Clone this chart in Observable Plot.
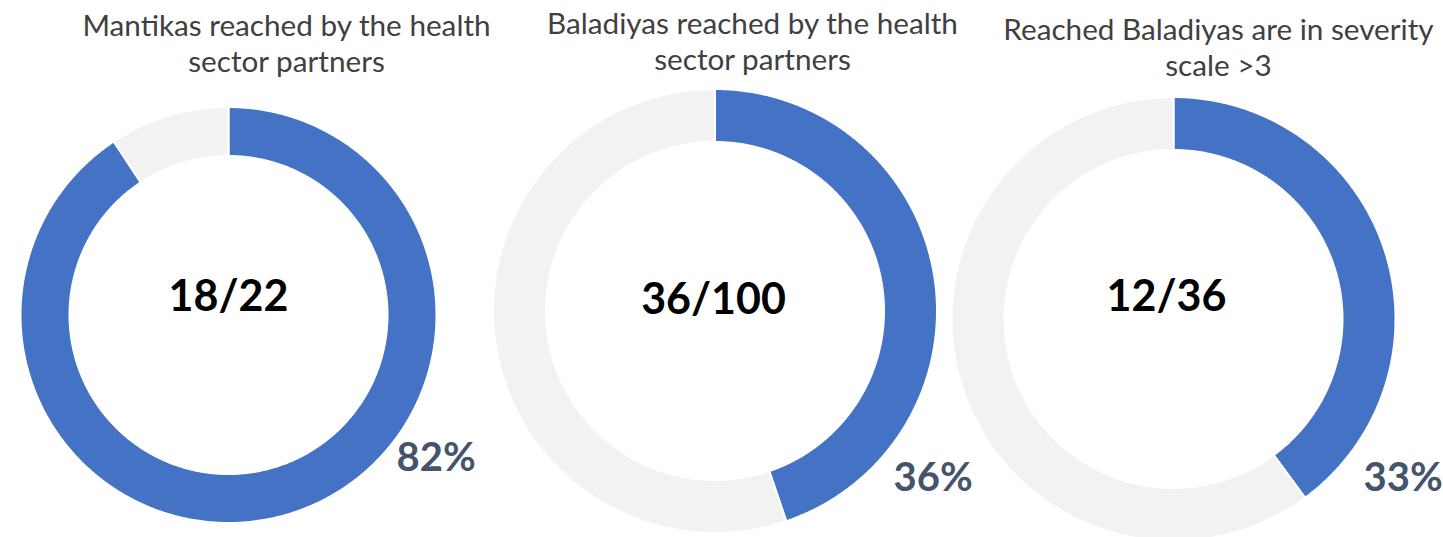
<!DOCTYPE html>
<html>
<head>
<meta charset="utf-8">
<script src="https://cdn.jsdelivr.net/npm/d3@7"></script>
<script src="https://cdn.jsdelivr.net/npm/@observablehq/plot@0.6"></script>
<style>
  html, body { margin: 0; padding: 0; background: #ffffff; }
  #chart svg { display: block; }
</style>
</head>
<body>
<div id="chart"></div>
<script>
// ---- data ----
const titles = [
  "Mantikas reached by the health\nsector partners",
  "Baladiyas reached by the health\nsector partners",
  "Reached Baladiyas are in severity\nscale >3"
];
const centerLabels = ["18/22", "36/100", "12/36"];
const percentLabels = ["82%", "36%", "33%"];
// share of the ring drawn in blue / grey, as it appears in the picture
const reachedShare = [0.907, 0.448, 0.399];
const remainingShare = [0.093, 0.552, 0.601];
const segments = ["reached", "remaining"];

// ---- layout (pixels) ----
const W = 1443, H = 537;
const cx = [228.5, 715, 1173.5];
const cy = [315, 311, 319];
const rOuter = [208, 222, 222];
const rInner = [159, 169, 169];
const titleX = [286, 752, 1218];
const titleBaseline = [71, 69, 75];
const centerBaseline = [310, 313, 310];
const centerX = [228, 713, 1166];
const pctX = [396, 893, 1363];
const pctBaseline = [470, 490, 490];

// ---- build ring-segment outlines from the shares ----
const ringPoints = [];
titles.forEach((t, i) => {
  const shares = [reachedShare[i], remainingShare[i]];
  const total = shares[0] + shares[1];
  let start = 0;
  shares.forEach((s, k) => {
    const a0 = start / total * 2 * Math.PI;
    const a1 = (start + s) / total * 2 * Math.PI;
    const n = Math.max(8, Math.ceil((a1 - a0) / (Math.PI / 360)));
    for (let j = 0; j <= n; j++) {
      const a = a0 + (a1 - a0) * j / n;
      ringPoints.push({
        key: i + "-" + segments[k],
        segment: segments[k],
        x1: cx[i] + rOuter[i] * Math.sin(a),
        y1: cy[i] - rOuter[i] * Math.cos(a),
        x2: cx[i] + rInner[i] * Math.sin(a),
        y2: cy[i] - rInner[i] * Math.cos(a)
      });
    }
    start += s;
  });
});

const idx = titles.map((_, i) => i);

const chart = Plot.plot({
  width: W,
  height: H,
  margin: 0,
  style: { background: "#ffffff", fontFamily: "Lato, sans-serif" },
  x: { domain: [0, W], range: [0, W], axis: null },
  y: { domain: [0, H], range: [0, H], axis: null },
  color: { domain: segments, range: ["#4472C4", "#F2F2F2"] },
  marks: [
    Plot.area(ringPoints, {
      x1: "x1", y1: "y1", x2: "x2", y2: "y2",
      z: "key", fill: "segment",
      stroke: "#ffffff", strokeWidth: 2
    }),
    Plot.text(idx, {
      x: i => titleX[i], y: i => titleBaseline[i],
      text: i => titles[i],
      lineAnchor: "bottom", lineHeight: 1.21,
      fontSize: 29.7, fill: "#404040", textAnchor: "middle"
    }),
    Plot.text(idx, {
      x: i => centerX[i], y: i => centerBaseline[i],
      text: i => centerLabels[i],
      lineAnchor: "bottom",
      fontSize: 43, fontWeight: "bold", fill: "#000000", textAnchor: "middle"
    }),
    Plot.text(idx, {
      x: i => pctX[i], y: i => pctBaseline[i],
      text: i => percentLabels[i],
      lineAnchor: "bottom",
      fontSize: 40, fontWeight: "bold", fill: "#44546A", textAnchor: "start"
    })
  ]
});
document.getElementById("chart").appendChild(chart);
</script>
</body>
</html>
